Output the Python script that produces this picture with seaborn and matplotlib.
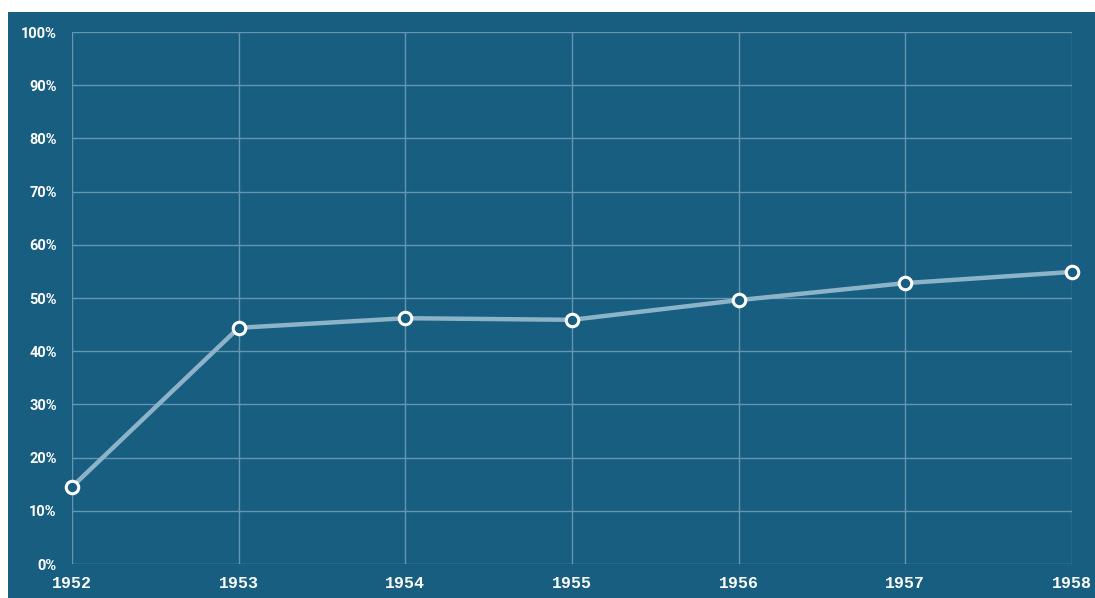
import matplotlib
matplotlib.use("Agg")
import matplotlib.pyplot as plt
import seaborn as sns
import pandas as pd
from matplotlib.patches import Rectangle

years = [1952, 1953, 1954, 1955, 1956, 1957, 1958]
values = [14.5, 44.4, 46.2, 45.9, 49.6, 52.8, 54.9]
ytick_vals = list(range(0, 101, 10))

BG = "#175e80"
LINE = "#8db3c8"
GRID = "#6496b1"

sns.set_theme(style="white")
plt.rcParams['font.family'] = ['DejaVu Sans']

W, H = 1095, 598
fig = plt.figure(figsize=(W / 100, H / 100), dpi=100, facecolor="white")
fig.patches.append(Rectangle((8 / W, 0), 1 - 8 / W, 1 - 12 / H, transform=fig.transFigure,
                             facecolor=BG, edgecolor="none", zorder=-10))
ax = fig.add_axes([72 / W, 34 / H, 1000 / W, 532 / H])
ax.set_zorder(1)
ax.set_facecolor(BG)

df = pd.DataFrame({"year": years, "value": values})
sns.lineplot(data=df, x="year", y="value", ax=ax, color=LINE, linewidth=3.2,
             marker="o", markersize=9, markerfacecolor=BG, markeredgecolor="white",
             markeredgewidth=2.2, zorder=5, clip_on=False)

ax.set_xlim(years[0], years[-1])
ax.set_ylim(0, 100)
ax.set_xticks(years)
ax.set_xticklabels([str(y) for y in years], family="Liberation Mono",
                   fontweight="bold", fontsize=12, color="white")
ax.set_yticks(ytick_vals)
ax.set_yticklabels([f"{v}%" for v in ytick_vals], family="Roboto",
                   fontweight="bold", fontsize=10.5, color="white")
ax.grid(True, color=GRID, linewidth=1)
ax.set_axisbelow(True)
for s in ax.spines.values():
    s.set_visible(False)
ax.set_xlabel("")
ax.set_ylabel("")
ax.tick_params(axis="both", length=0, colors="white")
ax.tick_params(axis="y", pad=11)
ax.tick_params(axis="x", pad=8.5)

fig.savefig("out.png", dpi=100, facecolor="white")
